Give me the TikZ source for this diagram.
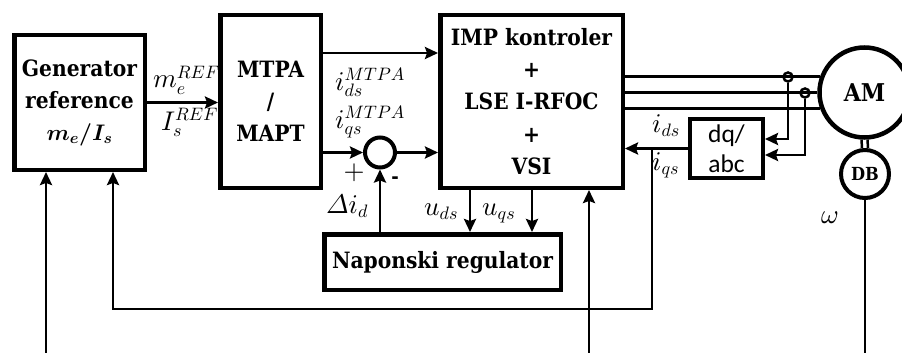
\documentclass[tikz,border=0pt]{standalone}
\usepackage{amsmath}
\usepackage{fontspec}
\usetikzlibrary{arrows.meta,calc}
\DeclareFontShape{OML}{cmm}{m}{it}{<->cmmi10}{}
\DeclareFontShape{OML}{cmm}{b}{it}{<->cmmib10}{}
\DeclareFontShape{OMS}{cmsy}{m}{n}{<->cmsy10}{}
\DeclareFontShape{OMS}{cmsy}{b}{n}{<->cmbsy10}{}
\DeclareFontShape{OT1}{cmr}{m}{n}{<->cmr10}{}
\DeclareFontShape{OT1}{cmr}{bx}{n}{<->cmbx10}{}
\DeclareMathSizes{27}{27}{18}{13}
\newfontfamily\boxfont[FakeStretch=0.9]{DejaVu Serif}
\newfontfamily\dqfont{Carlito}
\begin{document}
\begin{tikzpicture}[x=1pt,y=-1pt,
  blk/.style={draw, line width=4.5pt, align=center, inner sep=0pt,
    font=\boxfont\bfseries\fontsize{22.5}{32}\selectfont},
  lbl/.style={inner sep=0pt, anchor=base west, font=\fontsize{27}{32}\selectfont},
  ln/.style={line width=2.9pt},
  arr/.style={line width=2.9pt, -{Stealth[length=13pt,width=12pt,inset=2pt]}},
  sens/.style={circle, draw, line width=2.5pt, minimum size=9pt, inner sep=0pt},
  rnd/.style={circle, draw, inner sep=0pt}]
\useasboundingbox (0,0) rectangle (902,353);

% blocks
\node[blk, minimum width=130.5pt, minimum height=134.5pt] (gen) at (79.5,102.5)
  {Generator\\reference\\$\boldsymbol{m_e/I_s}$};
\node[blk, minimum width=100.5pt, minimum height=172.5pt] (mtpa) at (270.5,101.5)
  {MTPA\\/\\MAPT};
\node[blk, minimum width=182.5pt, minimum height=172.5pt,
  font=\boxfont\bfseries\fontsize{22.5}{32.25}\selectfont] (imp) at (531.5,101.5)
  {IMP kontroler\\+\\LSE I-RFOC\\+\\VSI};
\node[blk, minimum width=236.5pt, minimum height=55.5pt] (reg) at (442.5,262)
  {Naponski regulator};
\node[blk, line width=4pt, minimum width=73pt, minimum height=59pt,
  font=\dqfont\fontsize{25.5}{30}\selectfont] (dq) at (726.5,148.5) {dq/\\abc};
\node[rnd, line width=4pt, minimum size=30pt] (sum) at (380,152.5) {};
\node[rnd, line width=4.5pt, minimum size=90pt,
  font=\boxfont\bfseries\fontsize{24.5}{28}\selectfont] (am) at (864.5,92.5) {AM};
\node[rnd, line width=4pt, minimum size=48pt,
  font=\boxfont\bfseries\fontsize{18}{20}\selectfont] (db) at (865,174) {DB};
\node[sens] (s1) at (788,77) {};
\node[sens] (s2) at (805,93) {};

% coordinates
\coordinate (in1) at (46,353);
\coordinate (in2) at (589,353);
\coordinate (br) at (652,148.5);
\coordinate (fb) at (113,309);

% connectors
\draw[arr] (gen.east) -- (gen.east -| mtpa.west);
\draw[arr] (mtpa.east |- 0,53) -- (imp.west |- 0,53);
\draw[arr] (mtpa.east |- sum.west) -- (sum.west);
\draw[arr] (sum.east) -- (sum.east -| imp.west);
\draw[arr] (sum.south |- reg.north) -- (sum.south);
\draw[arr] (imp.south -| 470,0) -- (reg.north -| 470,0);
\draw[arr] (imp.south -| 532,0) -- (reg.north -| 532,0);
% three phase lines
\draw[ln] (imp.east |- am.160) -- (am.160);
\draw[ln] (imp.east |- am.west) -- (am.west);
\draw[ln] (imp.east |- am.200) -- (am.200);
% current sensors to dq/abc
\draw[arr] (s1.south) |- ([yshift=9.5pt]dq.east);
\draw[arr] (s2.south) |- ([yshift=-6.5pt]dq.east);
% dq/abc to controller and feedback
\draw[arr] (dq.west) -- (dq.west -| imp.east);
\draw[arr] (br) |- (fb) -- (fb |- gen.south);
% external inputs
\draw[arr] (in1) -- (in1 |- gen.south);
\draw[arr] (in2) -- (in2 |- imp.south);
% AM - DB coupling and speed
\draw[line width=2.5pt] ([xshift=-3pt]am.south) -- ([xshift=-3pt]db.north);
\draw[line width=2.5pt] ([xshift=3pt]am.south) -- ([xshift=3pt]db.north);
\draw[ln] (db.south) -- (db.south |- 0,353);

% labels
\node[lbl] (lme) at (153,88) {$m_e^{REF}$};
\node[lbl] (lis) at (161,130) {$I_s^{REF}$};
\node[lbl] (lid) at (335,90) {$i_{ds}^{MTPA}$};
\node[lbl] (liq) at (335,128) {$i_{qs}^{MTPA}$};
\node[font=\fontsize{27}{32}\selectfont, inner sep=0pt] (plus) at (354,172.5) {$+$};
\node[font=\boxfont\bfseries\fontsize{20}{24}\selectfont, inner sep=0pt] (minus) at (395,180) {-};
\node[lbl] (ldi) at (326,213) {$\varDelta i_d$};
\node[lbl] (luds) at (424,215) {$u_{ds}$};
\node[lbl] (luqs) at (482,215) {$u_{qs}$};
\node[lbl] (rids) at (652,132) {$i_{ds}$};
\node[lbl] (riqs) at (652,170) {$i_{qs}$};
\node[lbl] (lw) at (821,223) {$\omega$};
\end{tikzpicture}
\end{document}
